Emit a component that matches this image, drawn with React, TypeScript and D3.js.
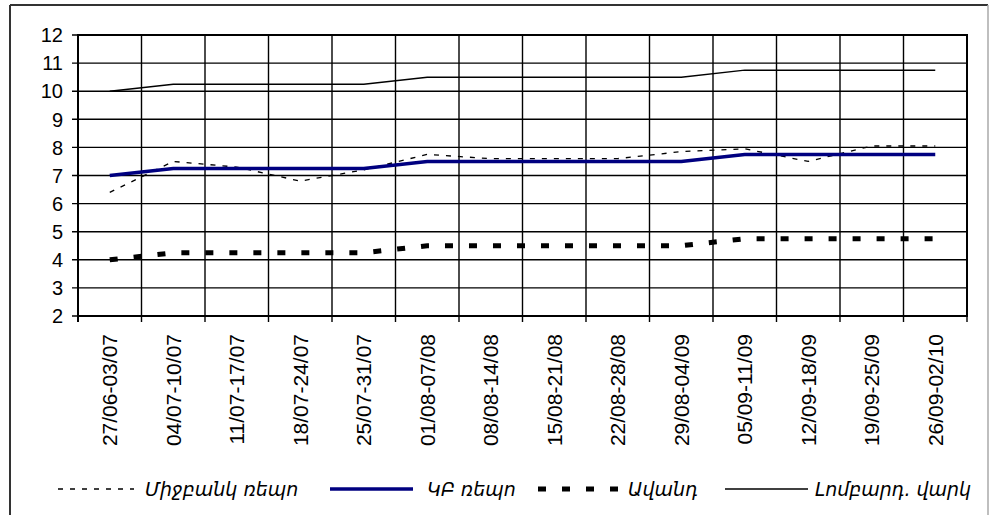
import React, { useEffect, useRef } from "react";
import * as d3 from "d3";

const settings = {
  width: 990,
  height: 515,
  margin: { top: 35, right: 23, bottom: 199, left: 78 },
};

const weeks: string[] = [
  "27/06-03/07", "04/07-10/07", "11/07-17/07", "18/07-24/07", "25/07-31/07",
  "01/08-07/08", "08/08-14/08", "15/08-21/08", "22/08-28/08", "29/08-04/09",
  "05/09-11/09", "12/09-18/09", "19/09-25/09", "26/09-02/10",
];
const interbankRepo = [6.4, 7.5, 7.3, 6.8, 7.2, 7.75, 7.6, 7.6, 7.6, 7.85, 7.95, 7.5, 8.05, 8.05];
const cbRepo = [7, 7.25, 7.25, 7.25, 7.25, 7.5, 7.5, 7.5, 7.5, 7.5, 7.75, 7.75, 7.75, 7.75];
const deposit = [4, 4.25, 4.25, 4.25, 4.25, 4.5, 4.5, 4.5, 4.5, 4.5, 4.75, 4.75, 4.75, 4.75];
const lombard = [10, 10.25, 10.25, 10.25, 10.25, 10.5, 10.5, 10.5, 10.5, 10.5, 10.75, 10.75, 10.75, 10.75];
const yTicks = [2, 3, 4, 5, 6, 7, 8, 9, 10, 11, 12];

const series = [
  { name: "Միջբանկ ռեպո", values: interbankRepo, color: "#000", width: 1.3, dash: "5,7", lx: 58, len: 76, tx: 145 },
  { name: "ԿԲ ռեպո", values: cbRepo, color: "#000080", width: 3.5, dash: null, lx: 330, len: 83, tx: 427 },
  { name: "Ավանդ", values: deposit, color: "#000", width: 5, dash: "8,16", lx: 538, len: 80, tx: 628 },
  { name: "Լոմբարդ. վարկ", values: lombard, color: "#000", width: 1.5, dash: null, lx: 725, len: 83, tx: 815 },
];

export default function App() {
  const svgRef = useRef(null);
  useEffect(() => {
    const svg = d3.select(svgRef.current);
    svg.selectAll("*").remove();
    const { width, height, margin } = settings;
    const bottom = height - margin.bottom;
    const right = width - margin.right;

    svg.append("rect").attr("width", width).attr("height", height).attr("fill", "#fff");
    // chart frame
    svg.append("line").attr("x1", 10).attr("x2", 988).attr("y1", 5).attr("y2", 5)
      .attr("stroke", "#333").attr("stroke-width", 2);
    svg.append("line").attr("x1", 10).attr("x2", 10).attr("y1", 5).attr("y2", 515)
      .attr("stroke", "#333").attr("stroke-width", 2);
    svg.append("line").attr("x1", 988).attr("x2", 988).attr("y1", 5).attr("y2", 515)
      .attr("stroke", "#aaa").attr("stroke-width", 1.5);

    const x = d3.scaleBand().domain(weeks).range([margin.left, right]).padding(0);
    const y = d3.scaleLinear().domain([2, 12]).range([bottom, margin.top]);
    const cx = (i: number) => (x(weeks[i]) || 0) + x.bandwidth() / 2;

    // horizontal grid
    svg.append("g").selectAll("line").data(yTicks).join("line")
      .attr("x1", margin.left - 6).attr("x2", right)
      .attr("y1", (d) => y(d)).attr("y2", (d) => y(d))
      .attr("stroke", "#000").attr("stroke-width", 1.4);

    // vertical grid at category boundaries
    const bounds = weeks.map((w) => (x(w) || 0) + x.bandwidth());
    svg.append("g").selectAll("line").data(bounds).join("line")
      .attr("x1", (d) => d).attr("x2", (d) => d)
      .attr("y1", margin.top).attr("y2", bottom + 6)
      .attr("stroke", "#000").attr("stroke-width", 1.4);

    // plot frame
    svg.append("rect").attr("x", margin.left).attr("y", margin.top)
      .attr("width", right - margin.left).attr("height", bottom - margin.top)
      .attr("fill", "none").attr("stroke", "#000").attr("stroke-width", 2);
    svg.append("line").attr("x1", margin.left).attr("x2", margin.left)
      .attr("y1", bottom).attr("y2", bottom + 6).attr("stroke", "#000").attr("stroke-width", 2);

    // y labels
    svg.append("g").selectAll("text").data(yTicks).join("text")
      .attr("x", 63).attr("y", (d) => y(d)).attr("dy", "0.36em")
      .attr("text-anchor", "end")
      .attr("font-family", "'Liberation Sans', Arial, sans-serif").attr("font-size", 20)
      .text((d) => d);

    // x labels
    svg.append("g").selectAll("text").data(weeks).join("text")
      .attr("transform", (d, i) => `translate(${cx(i)},334) rotate(-90)`)
      .attr("dy", "0.36em").attr("text-anchor", "end")
      .attr("font-family", "'Liberation Sans', Arial, sans-serif").attr("font-size", 21)
      .text((d) => d);

    const line = d3.line<number>().x((d, i) => cx(i)).y((d) => y(d));

    // draw order: interbank, deposit, lombard, cb repo on top
    [series[0], series[2], series[3], series[1]].forEach((s) => {
      svg.append("path").datum(s.values).attr("d", line)
        .attr("fill", "none").attr("stroke", s.color).attr("stroke-width", s.width)
        .attr("stroke-dasharray", s.dash || null);
    });

    // legend
    const ly = 489;
    const lg = svg.append("g");
    series.forEach((s) => {
      lg.append("line").attr("x1", s.lx).attr("x2", s.lx + s.len)
        .attr("y1", ly).attr("y2", ly)
        .attr("stroke", s.color).attr("stroke-width", s.width)
        .attr("stroke-dasharray", s.dash || null);
      lg.append("text").attr("x", s.tx).attr("y", ly).attr("dy", "0.35em")
        .attr("font-family", "'DejaVu Sans', sans-serif").attr("font-style", "italic")
        .attr("font-size", 19).text(s.name);
    });
  }, []);

  return (
    <svg
      ref={svgRef}
      width={settings.width}
      height={settings.height}
      style={{ position: "absolute", left: 0, top: 0 }}
    ></svg>
  );
}
